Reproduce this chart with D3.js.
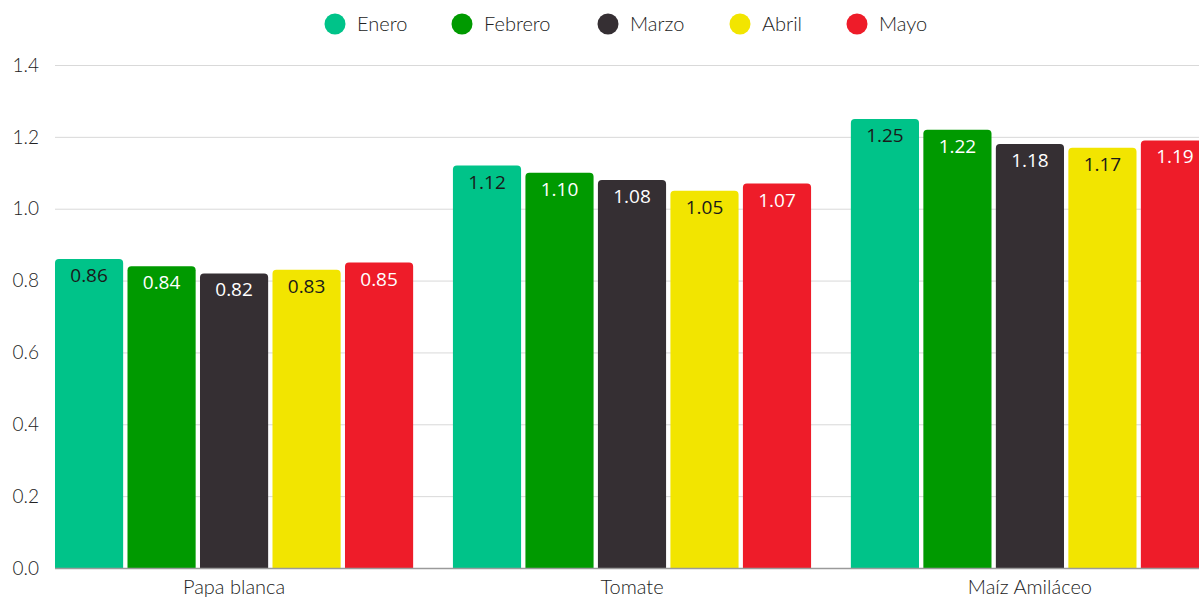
<!DOCTYPE html>
<html lang="es">
<head>
<meta charset="UTF-8">
<title>Precios</title>
<script src="https://cdn.jsdelivr.net/npm/d3@7"></script>
<style>
	body { margin: 0; background: #fff; }
	svg { display: block; }
</style>
</head>
<body>
<div id="chart"></div>
<script>
var categorias = ["Papa blanca", "Tomate", "Maíz Amiláceo"];
var meses = ["Enero", "Febrero", "Marzo", "Abril", "Mayo"];
var enero   = [0.86, 1.12, 1.25];
var febrero = [0.84, 1.10, 1.22];
var marzo   = [0.82, 1.08, 1.18];
var abril   = [0.83, 1.05, 1.17];
var mayo    = [0.85, 1.07, 1.19];
var yTicks = [0, 0.2, 0.4, 0.6, 0.8, 1.0, 1.2, 1.4];

var colores = ["#00c389", "#009a00", "#352f33", "#f2e500", "#ee1c29"];
var colorTexto = ["#1a1a1a", "#ffffff", "#ffffff", "#1a1a1a", "#ffffff"];
var series = [enero, febrero, marzo, abril, mayo];

var W = 1199, H = 598;
var svg = d3.select("#chart").append("svg")
	.attr("width", W).attr("height", H);

var y = d3.scaleLinear().domain([0, 1.4]).range([568, 65]);

// el gráfico original está cortado a la derecha
var x0 = d3.scaleBand()
	.domain(categorias)
	.range([55, 1209])
	.paddingInner(0.1)
	.paddingOuter(0);

var x1 = d3.scaleBand()
	.domain(meses)
	.range([0, x0.bandwidth()])
	.paddingInner(0.06);

// rejilla
svg.append("g").selectAll("line")
	.data(yTicks.filter(function(d){ return d > 0; }))
	.enter().append("line")
	.attr("x1", 55).attr("x2", W)
	.attr("y1", function(d){ return y(d) + 0.5; })
	.attr("y2", function(d){ return y(d) + 0.5; })
	.attr("stroke", "#d9d9d9").attr("stroke-width", 1);

// etiquetas eje y
svg.append("g").selectAll("text")
	.data(yTicks)
	.enter().append("text")
	.attr("x", 39)
	.attr("y", function(d){ return y(d); })
	.attr("dy", "0.35em")
	.attr("text-anchor", "end")
	.attr("font-family", "Lato, sans-serif")
	.attr("font-weight", 300)
	.attr("font-size", 19)
	.attr("fill", "#222")
	.text(function(d){ return d3.format(".1f")(d); });

function barra(x, yt, w, h, r) {
	r = Math.min(r, h);
	return "M" + x + "," + (yt + h) +
		"V" + (yt + r) +
		"Q" + x + "," + yt + " " + (x + r) + "," + yt +
		"H" + (x + w - r) +
		"Q" + (x + w) + "," + yt + " " + (x + w) + "," + (yt + r) +
		"V" + (yt + h) + "Z";
}

var grupos = svg.append("g").selectAll("g")
	.data(categorias)
	.enter().append("g")
	.attr("transform", function(d){ return "translate(" + x0(d) + ",0)"; });

grupos.selectAll("path")
	.data(function(c, ci){
		return meses.map(function(m, mi){ return { mes: m, i: mi, v: series[mi][ci] }; });
	})
	.enter().append("path")
	.attr("d", function(d){
		return barra(x1(d.mes), y(d.v), x1.bandwidth(), y(0) - y(d.v), 4);
	})
	.attr("fill", function(d){ return colores[d.i]; });

grupos.selectAll("text")
	.data(function(c, ci){
		return meses.map(function(m, mi){ return { mes: m, i: mi, v: series[mi][ci] }; });
	})
	.enter().append("text")
	.attr("x", function(d){ return x1(d.mes) + x1.bandwidth() / 2; })
	.attr("y", function(d){ return y(d.v) + 23; })
	.attr("text-anchor", "middle")
	.attr("font-family", "'Open Sans', sans-serif")
	.attr("font-size", 19)
	.attr("fill", function(d){ return colorTexto[d.i]; })
	.text(function(d){ return d3.format(".2f")(d.v); });

// línea base
svg.append("line")
	.attr("x1", 55).attr("x2", W)
	.attr("y1", y(0) + 0.5).attr("y2", y(0) + 0.5)
	.attr("stroke", "#9a9a9a").attr("stroke-width", 1.5);

// etiquetas de categorías
svg.append("g").selectAll("text")
	.data(categorias)
	.enter().append("text")
	.attr("x", function(d){ return x0(d) + x0.bandwidth() / 2; })
	.attr("y", 594)
	.attr("text-anchor", "middle")
	.attr("font-family", "Lato, sans-serif")
	.attr("font-weight", 300)
	.attr("font-size", 20)
	.attr("fill", "#222")
	.text(function(d){ return d; });

// leyenda
var legX = [335, 462, 608, 740, 857];
var ley = svg.append("g").selectAll("g")
	.data(meses)
	.enter().append("g")
	.attr("transform", function(d, i){ return "translate(" + legX[i] + ",24)"; });
ley.append("circle")
	.attr("r", 10.5)
	.attr("fill", function(d, i){ return colores[i]; });
ley.append("text")
	.attr("x", 22)
	.attr("dy", "0.35em")
	.attr("font-family", "Lato, sans-serif")
	.attr("font-weight", 300)
	.attr("font-size", 20)
	.attr("fill", "#222")
	.text(function(d){ return d; });
</script>
</body>
</html>
